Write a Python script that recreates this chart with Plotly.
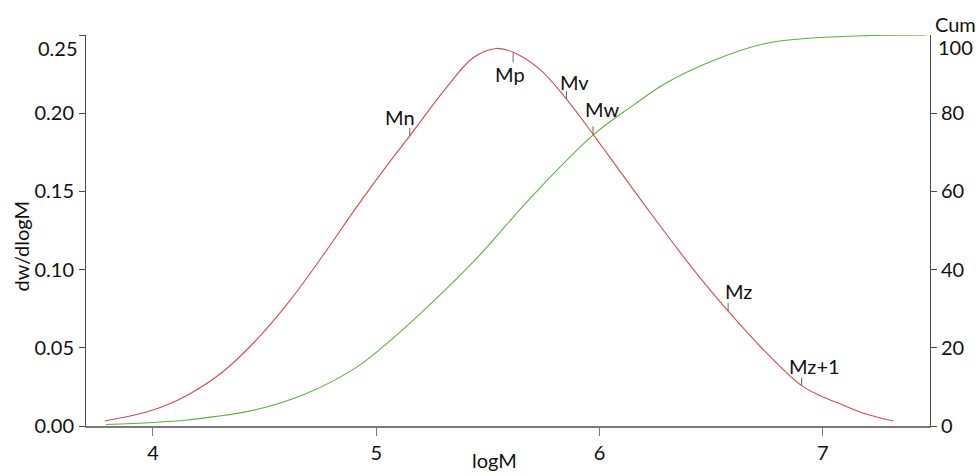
import plotly.graph_objects as go

# Molecular weight distribution: differential (dw/dlogM) and cumulative curves
log_m = [3.784, 3.940, 4.050, 4.164, 4.313, 4.463, 4.612, 4.761, 4.911, 5.060,
         5.150, 5.314, 5.434, 5.538, 5.613, 5.733, 5.852, 5.971, 6.031, 6.136,
         6.225, 6.360, 6.449, 6.576, 6.748, 6.905, 6.987, 7.077, 7.190, 7.316]
dw_dlogm = [0.0032, 0.0078, 0.0128, 0.0205, 0.0347, 0.0550, 0.0800, 0.1090, 0.1398, 0.1689,
            0.1855, 0.2163, 0.2355, 0.2414, 0.2390, 0.2280, 0.2090, 0.1865, 0.1748, 0.1542,
            0.1368, 0.1112, 0.0950, 0.0734, 0.0467, 0.0258, 0.0195, 0.0142, 0.0078, 0.0032]

cum_log_m = [3.79, 4.000, 4.164, 4.463, 4.687, 4.911, 5.016, 5.239, 5.463, 5.687,
             5.971, 6.150, 6.300, 6.524, 6.748, 6.972, 7.196, 7.465]
cum_pct = [0.4, 0.9, 1.6, 4.2, 8.3, 15.0, 19.6, 31.0, 43.7, 58.1,
           74.4, 82.0, 87.8, 93.8, 97.9, 99.3, 99.85, 100.0]

# Average molecular weight markers on the distribution curve
avg_names = ["Mn", "Mp", "Mv", "Mw", "Mz", "Mz+1"]
avg_log_m = [5.150, 5.613, 5.852, 5.971, 6.576, 6.905]
avg_dw = [0.1855, 0.2390, 0.2090, 0.1865, 0.0734, 0.0258]

x_ticks = [4, 5, 6, 7]
y_ticks = [0.00, 0.05, 0.10, 0.15, 0.20, 0.25]
y2_ticks = [0, 20, 40, 60, 80]

FONT = "Lato"
RED = "#d04c4c"
GREEN = "#5fae40"
AXIS = "#4a4a4a"
TEXT = "#111111"

fig = go.Figure()
fig.add_trace(go.Scatter(x=log_m, y=dw_dlogm, mode="lines",
                         line=dict(color=RED, width=1.1, shape="spline", smoothing=1.0),
                         hoverinfo="skip", showlegend=False))
fig.add_trace(go.Scatter(x=cum_log_m, y=cum_pct, mode="lines", yaxis="y2",
                         line=dict(color=GREEN, width=1.1, shape="spline", smoothing=1.1),
                         hoverinfo="skip", showlegend=False))

# tick marks and labels for the averages
label_shift = {"Mn": (-10, 19), "Mp": (-3, -22), "Mv": (8, 17),
               "Mw": (9, 25), "Mz": (10, 20), "Mz+1": (13, 20)}
for name, xv, yv in zip(avg_names, avg_log_m, avg_dw):
    below = name == "Mp"
    fig.add_shape(type="line", xref="x", yref="y", ysizemode="pixel",
                  x0=xv, x1=xv, yanchor=yv,
                  y0=0 if not below else -1, y1=8 if not below else -10,
                  line=dict(color="#666666", width=1))
    dx, dy = label_shift[name]
    fig.add_annotation(x=xv, y=yv, text=name, showarrow=False,
                       xanchor="center", yanchor="middle",
                       xshift=dx, yshift=dy,
                       font=dict(family=FONT, size=20, color=TEXT))

# top tick labels sit just under the axis ends
fig.add_annotation(xref="paper", yref="y", x=0, y=0.25, text="0.25", showarrow=False,
                   xanchor="right", yanchor="middle", xshift=-6, yshift=-13,
                   font=dict(family=FONT, size=20, color=TEXT))
fig.add_annotation(xref="paper", yref="y2", x=1, y=100, text="100", showarrow=False,
                   xanchor="left", yanchor="middle", xshift=6, yshift=-12,
                   font=dict(family=FONT, size=20, color=TEXT))
fig.add_annotation(xref="paper", yref="paper", x=1, y=1, text="Cum", showarrow=False,
                   xanchor="left", yanchor="bottom", xshift=3, yshift=-3,
                   font=dict(family=FONT, size=20, color=TEXT))

# axis titles
fig.add_annotation(xref="paper", yref="paper", x=(494 - 86) / 844, y=(429 - 463) / 394,
                   text="logM", showarrow=False, xanchor="center", yanchor="middle",
                   font=dict(family=FONT, size=20, color=TEXT))
fig.add_annotation(xref="paper", yref="paper", x=(21 - 86) / 844, y=(429 - 248) / 394,
                   text="dw/dlogM", showarrow=False, textangle=-90,
                   xanchor="center", yanchor="middle",
                   font=dict(family=FONT, size=20, color=TEXT))

fig.update_layout(
    width=976, height=476,
    margin=dict(l=86, r=46, t=35, b=47, pad=0),
    paper_bgcolor="white", plot_bgcolor="white",
    font=dict(family=FONT, size=20, color=TEXT),
    xaxis=dict(range=[3.70, 7.48], tickvals=x_ticks, ticktext=[str(v) for v in x_ticks],
               showgrid=False, zeroline=False, showline=True, linecolor="#7a7a7a",
               linewidth=1.5, ticks="outside", ticklen=8, tickcolor="#7a7a7a",
               ticklabelstandoff=0),
    yaxis=dict(range=[0, 0.25], tickvals=y_ticks,
               ticktext=["0.00", "0.05", "0.10", "0.15", "0.20", ""],
               showgrid=False, zeroline=False, showline=True, linecolor=AXIS,
               linewidth=1, ticks="outside", ticklen=6, tickcolor=AXIS,
               ticklabelstandoff=1),
    yaxis2=dict(range=[0, 100], overlaying="y", side="right", tickvals=y2_ticks,
                ticktext=[str(v) for v in y2_ticks],
                showgrid=False, zeroline=False, showline=True, linecolor=AXIS,
                linewidth=1, ticks="outside", ticklen=6, tickcolor=AXIS,
                ticklabelstandoff=0),
)

fig.write_html("out.html")
